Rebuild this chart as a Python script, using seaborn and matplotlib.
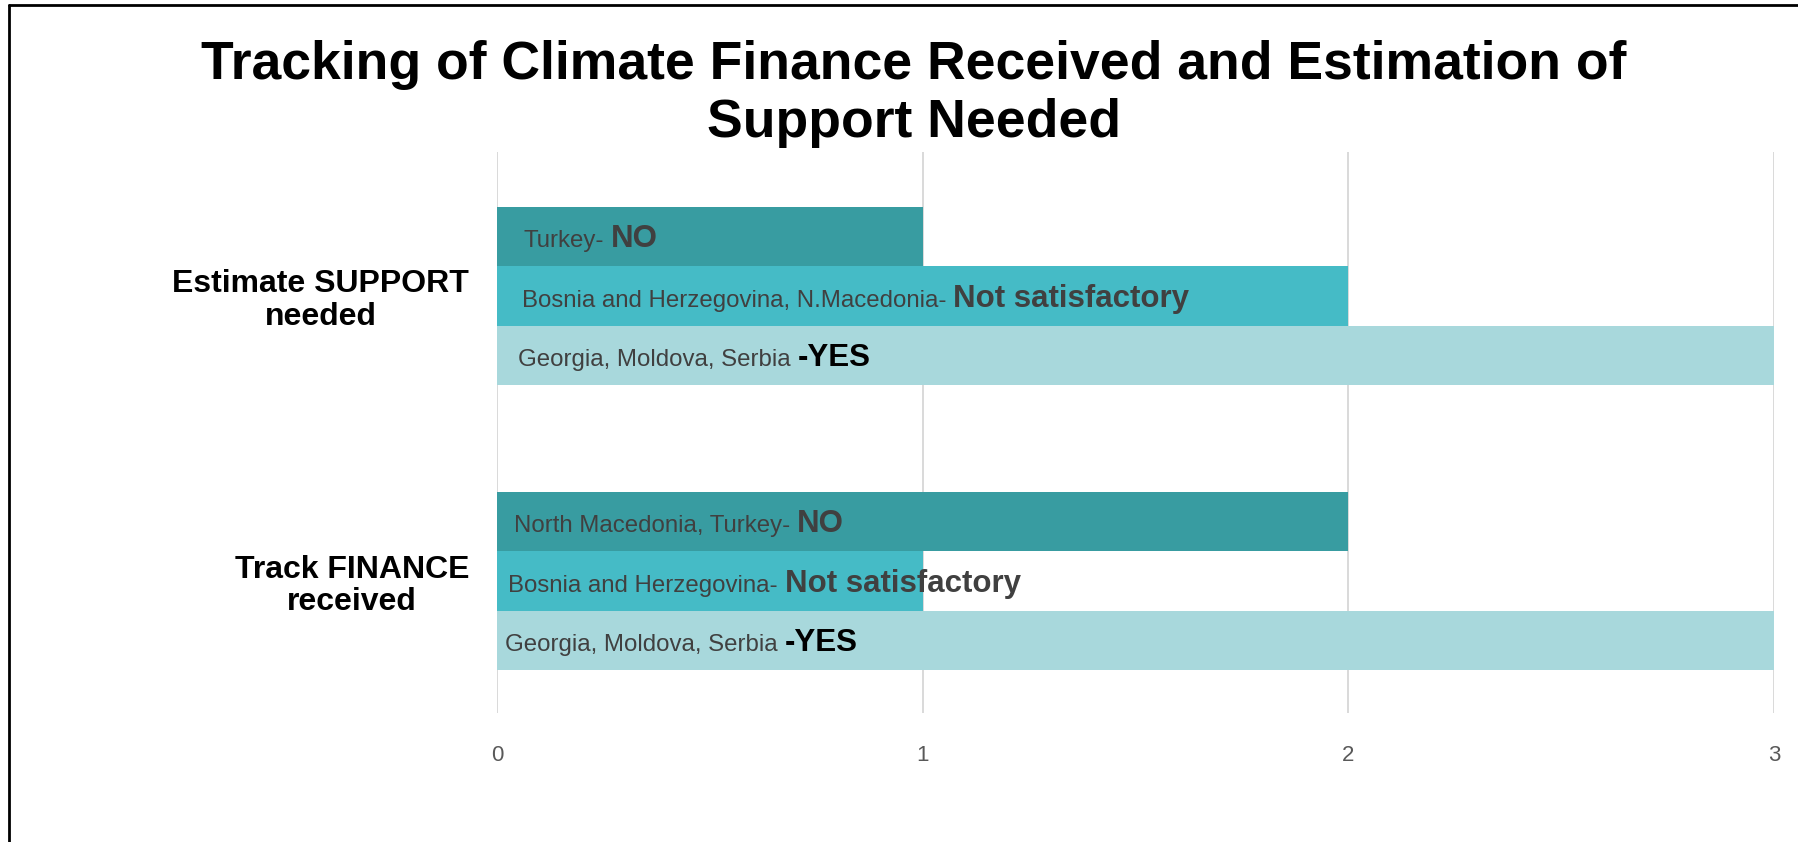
import matplotlib
matplotlib.use("Agg")
import matplotlib.pyplot as plt
import seaborn as sns
import pandas as pd
from matplotlib.lines import Line2D
from matplotlib.offsetbox import TextArea, HPacker, AnnotationBbox

# ---------------- data ----------------
categories = ["Estimate SUPPORT\nneeded", "Track FINANCE\nreceived"]
statuses = ["NO", "Not satisfactory", "YES"]
estimate_values = [1, 2, 3]
track_values = [2, 1, 3]
estimate_countries = ["Turkey-", "Bosnia and Herzegovina, N.Macedonia-", "Georgia, Moldova, Serbia"]
track_countries = ["North Macedonia, Turkey-", "Bosnia and Herzegovina-", "Georgia, Moldova, Serbia"]
status_words = ["NO", "Not satisfactory", "-YES"]
x_ticks = [0, 1, 2, 3]
title = "Tracking of Climate Finance Received and Estimation of\nSupport Needed"

df = pd.DataFrame({
    "category": [categories[0]] * 3 + [categories[1]] * 3,
    "status": statuses * 2,
    "count": estimate_values + track_values,
})

# ---------------- style ----------------
colors = ["#389CA1", "#45BBC6", "#A8D8DC"]
word_colors = ["#404040", "#404040", "#000000"]
label_offsets_px = [[26, 25, 21], [17, 11, 8]]  # left padding of labels inside bars

sns.set_theme(style="white")
plt.rcParams["font.family"] = ["Liberation Sans", "DejaVu Sans"]

W, H, DPI = 1798, 842, 100
fig = plt.figure(figsize=(W / DPI, H / DPI), dpi=DPI)
ax = fig.add_axes([497 / W, (H - 713) / H, (1774 - 497) / W, (713 - 152) / H])

sns.barplot(data=df, y="category", x="count", hue="status", hue_order=statuses,
            order=categories, orient="h", palette=colors, width=0.625,
            linewidth=0, saturation=1, legend=False, ax=ax)

ax.set_xlim(0, 3)
ax.set_ylim(1.463, -0.505)
ax.set_xticks(x_ticks)
ax.set_xticklabels([str(t) for t in x_ticks])
ax.set_xlabel("")
ax.set_ylabel("")
ax.grid(axis="x", color="#D9D9D9", linewidth=1.4)
ax.grid(axis="y", visible=False)
ax.set_axisbelow(True)
for s in ax.spines.values():
    s.set_visible(False)
ax.tick_params(axis="x", length=0, pad=23, labelsize=16, labelcolor="#595959")
ax.tick_params(axis="y", length=0, pad=20, labelsize=23)
for lab in ax.get_yticklabels():
    lab.set_fontweight("bold")
    lab.set_color("black")
    lab.set_multialignment("center")
    lab.set_linespacing(1.12)

# ---------------- in-bar labels ----------------
countries = [estimate_countries, track_countries]
for h_idx, container in enumerate(ax.containers):
    for c_idx, bar in enumerate(container):
        left = TextArea(countries[c_idx][h_idx],
                        textprops=dict(fontsize=17.3, color="#404040"))
        right = TextArea(status_words[h_idx],
                         textprops=dict(fontsize=22.5, fontweight="bold", color=word_colors[h_idx]))
        box = HPacker(children=[left, right], align="baseline", pad=0, sep=5)
        yc = bar.get_y() + bar.get_height() / 2
        ab = AnnotationBbox(box, (bar.get_x(), yc),
                            xybox=(label_offsets_px[c_idx][h_idx] * 72 / DPI, -2),
                            boxcoords="offset points", box_alignment=(0, 0.5),
                            frameon=False, pad=0, annotation_clip=False)
        ax.add_artist(ab)

# ---------------- title ----------------
fig.text(914 / W, 1 - 94 / H, title, ha="center", va="center", fontsize=38.5,
         fontweight="bold", color="black", linespacing=1.19)

# ---------------- frame lines (top & left) ----------------
fig.add_artist(Line2D([9 / W, 1], [1 - 5 / H, 1 - 5 / H], transform=fig.transFigure,
                      color="black", linewidth=2))
fig.add_artist(Line2D([9 / W, 9 / W], [0, 1 - 5 / H], transform=fig.transFigure,
                      color="black", linewidth=2))

fig.savefig("out.png", dpi=DPI, facecolor="white")
